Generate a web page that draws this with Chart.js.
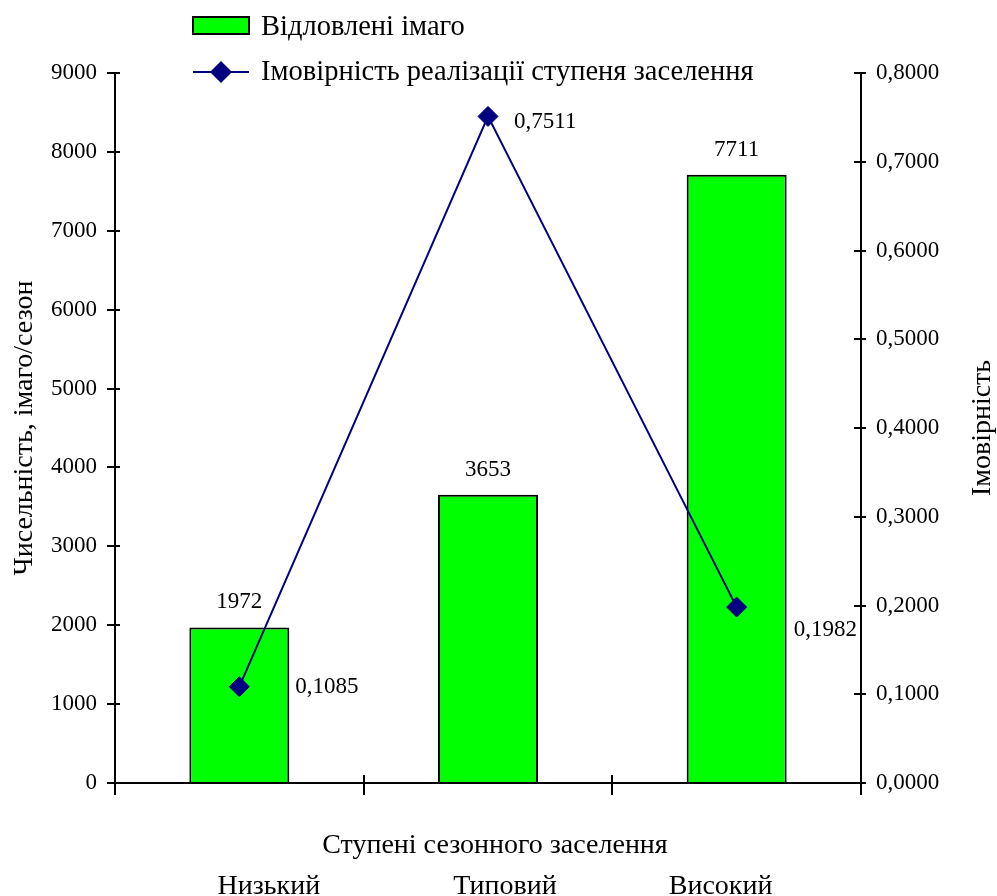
<!DOCTYPE html>
<html lang="uk">
<head>
<meta charset="utf-8">
<title>Ступені сезонного заселення</title>
<script src="https://cdn.jsdelivr.net/npm/chart.js@4"></script>
<style>
  html, body { margin: 0; padding: 0; background: #fff; }
  #wrap { position: relative; width: 997px; height: 896px; }
</style>
</head>
<body>
<div id="wrap"><canvas id="chart"></canvas></div>
<script>
// Categories and series
const categories = ['Низький', 'Типовий', 'Високий'];
const capturedAdults = [1972, 3653, 7711];
const probability = [0.1085, 0.7511, 0.1982];
const seriesNames = ['Відловлені імаго', 'Імовірність реалізації ступеня заселення'];

// Axis ranges and titles
const countRange = [0, 9000, 1000];
const probRange = [0, 0.8, 0.1];
const xTitle = 'Ступені сезонного заселення';
const yTitle = 'Чисельність, імаго/сезон';
const y1Title = 'Імовірність';

// Offsets of the probability value labels from their markers [dx, dy]
const probLabelOffsets = [[56, 0], [26, 6], [57, 23]];

const FONT = "'Liberation Serif', 'Times New Roman', serif";
const GREEN = '#00FF00';
const NAVY = '#000080';

Chart.defaults.font.family = FONT;
Chart.defaults.color = '#000';

const fmtProb = v => v.toFixed(4).replace('.', ',');

// Second title line: category names spread out under the axis
const xTitleLines = [
  '  ' + xTitle,
  '  ' + categories[0] + ' '.repeat(19) + categories[1] + ' '.repeat(16) + categories[2]
];

// Small inner halves of the tick marks (ticks cross the axis lines)
const crossTicks = {
  id: 'crossTicks',
  afterDatasetsDraw(chart) {
    const { ctx } = chart;
    const { x, y, y1 } = chart.scales;
    ctx.save();
    ctx.strokeStyle = '#000';
    ctx.lineWidth = 2;
    const seg = (x0, y0, x1, y1_) => { ctx.beginPath(); ctx.moveTo(x0, y0); ctx.lineTo(x1, y1_); ctx.stroke(); };
    y.ticks.forEach((t, i) => { const p = Math.round(y.getPixelForTick(i)); seg(y.right, p, y.right + 5, p); });
    y1.ticks.forEach((t, i) => { const p = Math.round(y1.getPixelForTick(i)); seg(y1.left - 7, p, y1.left, p); });
    for (let i = 0; i <= categories.length; i++) {
      const p = Math.round(x.getPixelForValue(i - 0.5));
      seg(p, x.top, p, x.top - 8);
    }
    ctx.restore();
  }
};

// Value labels for bars and markers
const valueLabels = {
  id: 'valueLabels',
  afterDatasetsDraw(chart) {
    const { ctx } = chart;
    ctx.save();
    ctx.fillStyle = '#000';
    ctx.font = '23px ' + FONT;
    ctx.textBaseline = 'middle';
    ctx.textAlign = 'center';
    const bars = chart.getDatasetMeta(0).data;
    bars.forEach((bar, i) => {
      ctx.fillText(String(chart.data.datasets[0].data[i]), bar.x, bar.y - 25);
    });
    ctx.textAlign = 'left';
    const pts = chart.getDatasetMeta(1).data;
    pts.forEach((pt, i) => {
      const [dx, dy] = probLabelOffsets[i];
      ctx.fillText(fmtProb(chart.data.datasets[1].data[i]), pt.x + dx, pt.y + dy);
    });
    ctx.restore();
  }
};

// Stacked legend at the top and the right-hand axis title
const sideDecor = {
  id: 'sideDecor',
  afterDraw(chart) {
    const { ctx, chartArea } = chart;
    ctx.save();
    ctx.fillStyle = '#000';
    ctx.textBaseline = 'middle';
    ctx.textAlign = 'left';

    // bar series swatch
    ctx.fillStyle = GREEN;
    ctx.fillRect(193, 17, 56, 17);
    ctx.strokeStyle = '#000';
    ctx.lineWidth = 2;
    ctx.strokeRect(193, 17, 56, 17);
    ctx.fillStyle = '#000';
    ctx.font = '28.5px ' + FONT;
    ctx.fillText(seriesNames[0], 261, 28);

    // line series swatch
    ctx.strokeStyle = NAVY;
    ctx.lineWidth = 2;
    ctx.beginPath(); ctx.moveTo(193, 72); ctx.lineTo(249, 72); ctx.stroke();
    ctx.fillStyle = NAVY;
    ctx.beginPath();
    ctx.moveTo(221, 61); ctx.lineTo(232, 72); ctx.lineTo(221, 83); ctx.lineTo(210, 72);
    ctx.closePath(); ctx.fill();
    ctx.fillStyle = '#000';
    ctx.fillText(seriesNames[1], 261, 73);

    // right axis title, reading upwards
    ctx.font = '28px ' + FONT;
    ctx.translate(983, (chartArea.top + chartArea.bottom) / 2);
    ctx.rotate(-Math.PI / 2);
    ctx.textAlign = 'center';
    ctx.fillText(y1Title, 0, 0);
    ctx.restore();
  }
};

new Chart(document.getElementById('chart'), {
  data: {
    labels: categories,
    datasets: [
      {
        type: 'bar',
        label: seriesNames[0],
        data: capturedAdults,
        yAxisID: 'y',
        backgroundColor: GREEN,
        borderColor: '#000',
        borderWidth: 2,
        barPercentage: 0.402,
        categoryPercentage: 1,
        order: 1
      },
      {
        type: 'line',
        label: seriesNames[1],
        data: probability,
        yAxisID: 'y1',
        borderColor: NAVY,
        borderWidth: 2,
        pointStyle: 'rectRot',
        pointRadius: 10,
        pointBorderWidth: 1,
        pointBackgroundColor: NAVY,
        pointBorderColor: NAVY,
        tension: 0,
        order: 0
      }
    ]
  },
  options: {
    responsive: true,
    maintainAspectRatio: false,
    animation: false,
    layout: { padding: { top: 73, left: 0, right: 0, bottom: 0 } },
    plugins: {
      legend: { display: false },
      tooltip: { enabled: false }
    },
    scales: {
      x: {
        type: 'category',
        offset: true,
        grid: { offset: true, drawOnChartArea: false, drawTicks: true, tickLength: 12, color: '#000', lineWidth: 2 },
        border: { display: true, color: '#000', width: 2 },
        ticks: { display: false },
        title: {
          display: true,
          text: xTitleLines,
          color: '#000',
          font: { size: 28, lineHeight: 41 / 28 },
          padding: { top: 0, bottom: -11 }
        },
        afterFit(scale) { scale.height = 113; }
      },
      y: {
        type: 'linear',
        position: 'left',
        min: countRange[0], max: countRange[1],
        ticks: { stepSize: countRange[2], padding: 10, font: { size: 23 }, color: '#000', callback: v => String(v) },
        grid: { drawOnChartArea: false, tickLength: 8, color: '#000', lineWidth: 2 },
        border: { color: '#000', width: 2 },
        title: { display: true, text: yTitle, color: '#000', font: { size: 28 }, padding: { top: 8, bottom: 0 } },
        afterFit(scale) { scale.width = 115; }
      },
      y1: {
        type: 'linear',
        position: 'right',
        min: probRange[0], max: probRange[1],
        ticks: { stepSize: probRange[2], padding: 10, font: { size: 23 }, color: '#000', callback: v => fmtProb(v) },
        grid: { drawOnChartArea: false, tickLength: 5, color: '#000', lineWidth: 2 },
        border: { color: '#000', width: 2 },
        afterFit(scale) { scale.width = 136; }
      }
    }
  },
  plugins: [crossTicks, valueLabels, sideDecor]
});
</script>
</body>
</html>
